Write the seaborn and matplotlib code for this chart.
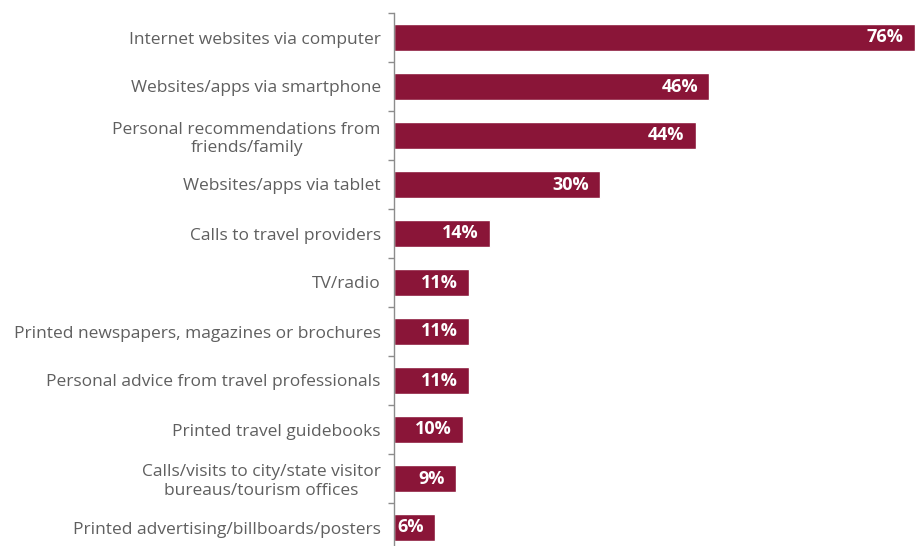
import matplotlib
matplotlib.use("Agg")
import matplotlib.pyplot as plt
from matplotlib.ticker import FixedLocator
import seaborn as sns
import pandas as pd

categories = [
    "Internet websites via computer",
    "Websites/apps via smartphone",
    "Personal recommendations from\nfriends/family",
    "Websites/apps via tablet",
    "Calls to travel providers",
    "TV/radio",
    "Printed newspapers, magazines or brochures",
    "Personal advice from travel professionals",
    "Printed travel guidebooks",
    "Calls/visits to city/state visitor\nbureaus/tourism offices",
    "Printed advertising/billboards/posters",
]
values = [76, 46, 44, 30, 14, 11, 11, 11, 10, 9, 6]

bar_color = "#8A1538"
label_color = "#5f5f5f"

df = pd.DataFrame({"source": categories, "share": values})

sns.set_theme(style="white")
plt.rcParams["font.family"] = ["Open Sans", "DejaVu Sans"]

fig = plt.figure(figsize=(9.19, 5.46), dpi=100)
ax = fig.add_axes([394 / 919, -6 / 546, 525 / 919, 539 / 546])

sns.barplot(data=df, x="share", y="source", orient="h", color=bar_color,
            saturation=1, width=0.56, ax=ax)

ax.set_xlim(0, 76.6)
ax.set_ylim(10.5, -0.5)
ax.set_xlabel("")
ax.set_ylabel("")
ax.set_xticks([])

for side in ("top", "right", "bottom"):
    ax.spines[side].set_visible(False)
ax.spines["left"].set_color("#8c8c8c")
ax.spines["left"].set_linewidth(1.0)

# category labels, no tick marks at bar centres
ax.tick_params(axis="y", which="major", length=0, pad=9.5,
               labelsize=12.5, labelcolor=label_color)
for lbl in ax.get_yticklabels():
    lbl.set_multialignment("center")
    lbl.set_linespacing(1.18)

# small ticks between categories
ax.yaxis.set_minor_locator(FixedLocator([i - 0.5 for i in range(len(categories) + 1)]))
ax.tick_params(axis="y", which="minor", left=True, length=4, width=1,
               color="#8c8c8c", direction="out")

for i, v in enumerate(values):
    ax.annotate(f"{v}%", xy=(v, i), xytext=(-8, 0), textcoords="offset points",
                ha="right", va="center", color="white", fontsize=13,
                fontweight="bold")

fig.savefig("out.png", dpi=100)
